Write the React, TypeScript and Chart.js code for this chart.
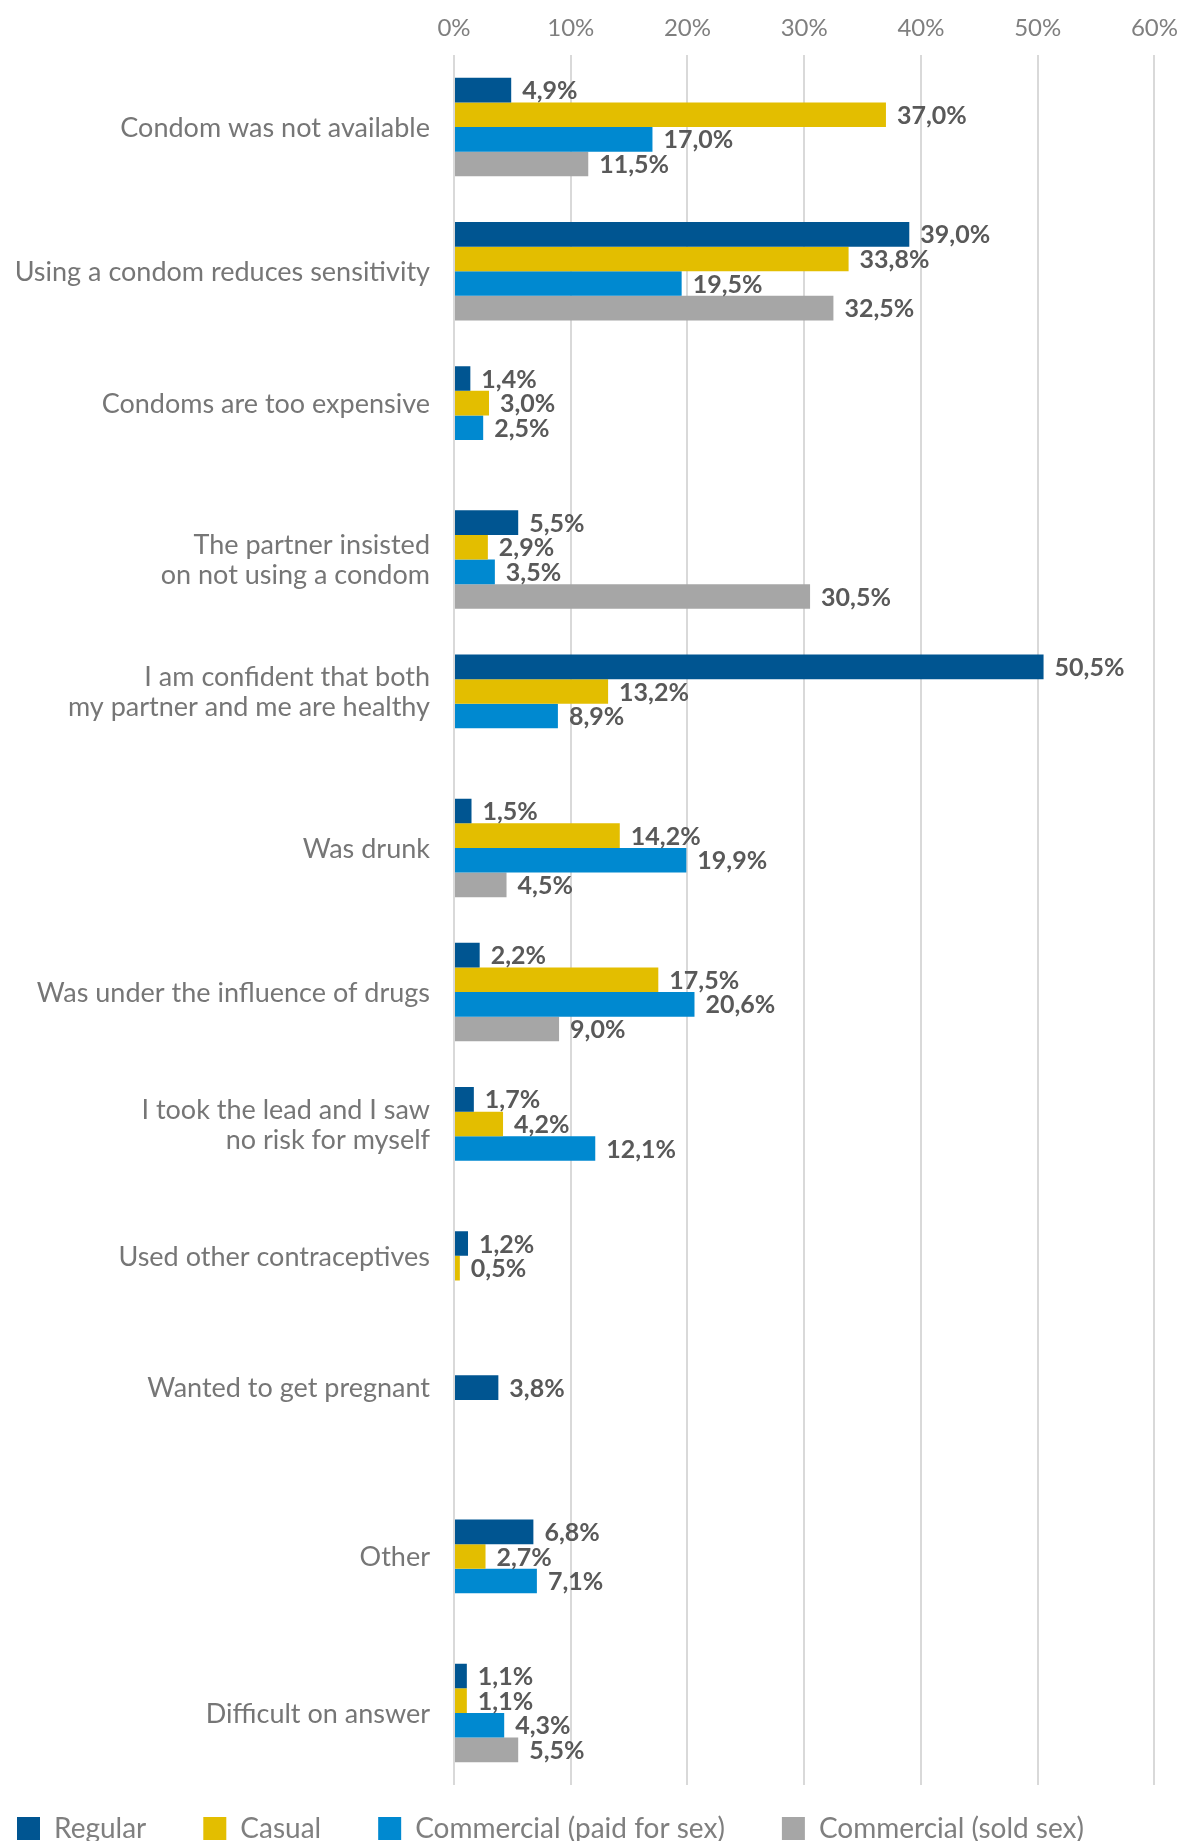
import React, { useEffect, useRef } from 'react';
import { Chart, registerables } from 'chart.js';

Chart.register(...registerables);

const categories: string[] = [
  'Condom was not available',
  'Using a condom reduces sensitivity',
  'Condoms are too expensive',
  'The partner insisted\non not using a condom',
  'I am confident that both\nmy partner and me are healthy',
  'Was drunk',
  'Was under the influence of drugs',
  'I took the lead and I saw\nno risk for myself',
  'Used other contraceptives',
  'Wanted to get pregnant',
  'Other',
  'Difficult on answer',
];

const seriesNames: string[] = ['Regular', 'Casual', 'Commercial (paid for sex)', 'Commercial (sold sex)'];

const regular: (number | null)[] = [4.9, 39.0, 1.4, 5.5, 50.5, 1.5, 2.2, 1.7, 1.2, 3.8, 6.8, 1.1];
const casual: (number | null)[] = [37.0, 33.8, 3.0, 2.9, 13.2, 14.2, 17.5, 4.2, 0.5, null, 2.7, 1.1];
const paidForSex: (number | null)[] = [17.0, 19.5, 2.5, 3.5, 8.9, 19.9, 20.6, 12.1, null, null, 7.1, 4.3];
const soldSex: (number | null)[] = [11.5, 32.5, null, 30.5, null, 4.5, 9.0, null, null, null, null, 5.5];

const xTicks: number[] = [0, 10, 20, 30, 40, 50, 60];

const seriesColors = ['#005591', '#E3BE00', '#0089D0', '#A6A6A6'];

const FONT = 'Lato';

const fmt = (v: number) => v.toFixed(1).replace('.', ',') + '%';

const valueLabels = {
  id: 'valueLabels',
  afterDatasetsDraw(chart: any) {
    const ctx = chart.ctx;
    ctx.save();
    ctx.font = `bold 25px ${FONT}`;
    ctx.fillStyle = '#595959';
    ctx.textAlign = 'left';
    ctx.textBaseline = 'middle';
    chart.data.datasets.forEach((ds: any, di: number) => {
      const meta = chart.getDatasetMeta(di);
      meta.data.forEach((bar: any, i: number) => {
        const v = ds.data[i];
        if (v == null) return;
        ctx.fillText(fmt(v), bar.x + 11, bar.y + 1);
      });
    });
    ctx.restore();
  },
};

const categoryLabels = {
  id: 'categoryLabels',
  afterDraw(chart: any) {
    const ctx = chart.ctx;
    const area = chart.chartArea;
    ctx.save();
    ctx.font = `27px ${FONT}`;
    ctx.fillStyle = '#767676';
    ctx.textAlign = 'right';
    ctx.textBaseline = 'middle';
    const lineH = 30;
    chart.data.labels.forEach((label: string, i: number) => {
      const ys: number[] = [];
      chart.data.datasets.forEach((ds: any, di: number) => {
        if (ds.data[i] == null) return;
        ys.push(chart.getDatasetMeta(di).data[i].y);
      });
      const cy = ys.length ? ys.reduce((a, b) => a + b, 0) / ys.length : chart.scales.y.getPixelForValue(i);
      const lines = label.split('\n');
      lines.forEach((ln, k) => {
        const y = cy + (k - (lines.length - 1) / 2) * lineH;
        ctx.fillText(ln, area.left - 24, y + 1);
      });
    });
    ctx.restore();
  },
};

const LEGEND_PAD = 57;
const LEGEND_FONT = 28;
const LEGEND_BOX = 23;

const legendShift = {
  id: 'legendShift',
  afterLayout(chart: any) {
    const lg = chart.legend;
    if (!lg) return;
    const boxOffset = Math.max((LEGEND_FONT - LEGEND_BOX) / 2, 0);
    lg.left = 17 - LEGEND_PAD;
    lg.right = chart.width;
    lg.top = 1817 - boxOffset - LEGEND_PAD;
    lg.bottom = chart.height;
    lg.width = lg.right - lg.left;
    lg.height = lg.bottom - lg.top;
  },
};

export default function App() {
  const canvasRef = useRef<HTMLCanvasElement | null>(null);

  useEffect(() => {
    document.body.style.margin = '0';
    document.body.style.overflow = 'hidden';
    const canvas = canvasRef.current;
    if (!canvas) return;
    const series = [regular, casual, paidForSex, soldSex];
    const chart = new Chart(canvas, {
      type: 'bar',
      data: {
        labels: categories,
        datasets: series.map((d, i) => ({
          label: seriesNames[i],
          data: d,
          backgroundColor: seriesColors[i],
          borderWidth: 0,
          categoryPercentage: 0.683,
          barPercentage: 1.0,
        })),
      },
      options: {
        indexAxis: 'y',
        responsive: false,
        animation: false,
        layout: { padding: { top: 0, right: 34, bottom: 0, left: 0 } },
        scales: {
          x: {
            position: 'top',
            min: xTicks[0],
            max: xTicks[xTicks.length - 1],
            afterFit: (scale: any) => {
              scale.height = 55;
            },
            afterBuildTicks: (scale: any) => {
              scale.ticks = xTicks.map((v) => ({ value: v }));
            },
            ticks: {
              padding: 12,
              color: '#7F7F7F',
              font: { family: FONT, size: 24 },
              callback: (v: any) => `${v}%`,
            },
            grid: {
              color: '#D9D9D9',
              lineWidth: 2,
              drawTicks: false,
            },
            border: { display: false },
          },
          y: {
            afterFit: (scale: any) => {
              scale.width = 454;
            },
            ticks: { display: false },
            grid: { display: false },
            border: { display: false },
          },
        },
        plugins: {
          legend: {
            position: 'bottom',
            align: 'start',
            maxHeight: 56,
            labels: {
              boxWidth: LEGEND_BOX,
              boxHeight: LEGEND_BOX,
              padding: LEGEND_PAD,
              color: '#7F7F7F',
              font: { family: FONT, size: LEGEND_FONT },
            },
          },
          tooltip: { enabled: false },
        },
      },
      plugins: [valueLabels, categoryLabels, legendShift],
    } as any);
    return () => chart.destroy();
  }, []);

  return (
    <div style={{ width: 1190, height: 1841, background: '#fff' }}>
      <canvas ref={canvasRef} width={1190} height={1841} style={{ display: 'block' }} />
    </div>
  );
}
